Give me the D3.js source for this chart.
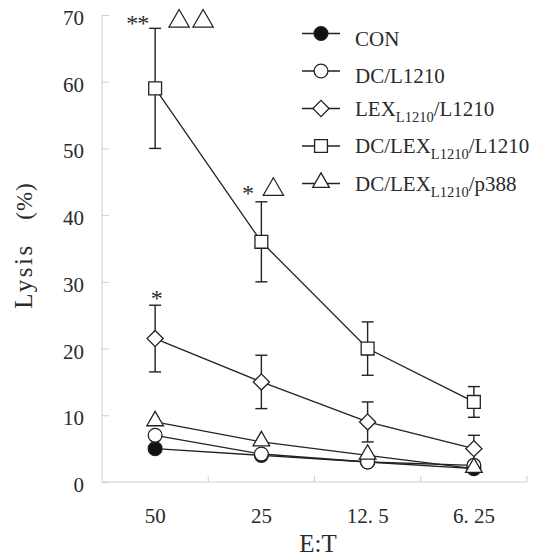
<!DOCTYPE html>
<html>
<head>
<meta charset="utf-8">
<script src="https://cdn.jsdelivr.net/npm/d3@7.9.0/dist/d3.min.js"></script>
<style>
  body { margin: 0; background: #fff; }
  svg { display: block; }
  text { font-family: "Liberation Serif", "Times New Roman", serif; fill: #2a2a2a; }
</style>
</head>
<body>
<svg id="chart" width="543" height="559"></svg>
<script>
// data
const categories = ['50', '25', '12. 5', '6. 25'];
const con = [5, 4, 3, 2];
const dcL1210 = [7, 4.2, 3, 2.5];
const lexL1210 = [21.5, 15, 9, 5];
const dcLexL1210 = [59, 36, 20, 12];
const dcLexP388 = [9, 6, 4, 2];
const lexErr = [5, 4, 3, 2];
const dcLexErr = [9, 6, 4, 2.3];
const yTicks = [0, 10, 20, 30, 40, 50, 60, 70];

// significance marks: category, value, offset, kind
const marks = [
  { cat: '50', value: 69.2, dx: -18, kind: 'star', text: '**' },
  { cat: '50', value: 69.2, dx: 24, kind: 'tri' },
  { cat: '50', value: 69.2, dx: 48, kind: 'tri' },
  { cat: '25', value: 43.8, dx: -14, kind: 'star', text: '*' },
  { cat: '25', value: 44, dx: 12, kind: 'tri' },
  { cat: '50', value: 28, dx: 1, kind: 'star', text: '*' }
];

const series = [
  { name: 'CON', values: con, shape: 'circle', fill: '#111' },
  { name: 'DC/L1210', values: dcL1210, shape: 'circle', fill: '#fff' },
  { name: ['LEX', 'L1210', '/L1210'], values: lexL1210, err: lexErr, shape: 'diamond', fill: '#fff' },
  { name: ['DC/LEX', 'L1210', '/L1210'], values: dcLexL1210, err: dcLexErr, shape: 'square', fill: '#fff' },
  { name: ['DC/LEX', 'L1210', '/p388'], values: dcLexP388, shape: 'triangle', fill: '#fff' }
];

const svg = d3.select('#chart');
const x = d3.scaleBand().domain(categories).range([102, 527]).padding(0);
const y = d3.scaleLinear().domain([0, 70]).range([482, 15]);
const cx = c => x(c) + x.bandwidth() / 2;

function symbolPath(shape) {
  if (shape === 'circle') return d3.symbol(d3.symbolCircle, 150)();
  if (shape === 'square') return d3.symbol(d3.symbolSquare, 165)();
  if (shape === 'diamond') return d3.symbol(d3.symbolSquare, 130)();
  return d3.symbol(d3.symbolTriangle, 120)();
}
function symbolTransform(shape, px, py) {
  if (shape === 'diamond') return `translate(${px},${py}) rotate(45)`;
  if (shape === 'triangle') return `translate(${px},${py - 1})`;
  return `translate(${px},${py})`;
}

// axes (light gray)
const axisColor = '#cfcfcf';
const xAxis = svg.append('g').attr('transform', 'translate(0,482)')
  .call(d3.axisBottom(x).tickSize(0).tickFormat(''));
xAxis.select('.domain').attr('stroke', axisColor).attr('d', 'M102,0H527');
xAxis.selectAll('.tick').remove();
categories.forEach(c => {
  xAxis.append('line').attr('x1', x(c) + x.bandwidth()).attr('x2', x(c) + x.bandwidth())
    .attr('y1', 0).attr('y2', -6).attr('stroke', axisColor);
});
categories.forEach(c => {
  svg.append('text').attr('x', cx(c)).attr('y', 523)
    .attr('text-anchor', 'middle').attr('font-size', 21).text(c);
});

const yAxis = svg.append('g').attr('transform', 'translate(102,0)')
  .call(d3.axisRight(y).tickValues(yTicks).tickSize(7).tickFormat(''));
yAxis.select('.domain').attr('stroke', axisColor).attr('d', 'M0,15V482');
yAxis.selectAll('.tick line').attr('stroke', axisColor);
yTicks.forEach(t => {
  svg.append('text').attr('x', 84).attr('y', y(t) + 10)
    .attr('text-anchor', 'end').attr('font-size', 21).text(t);
});

// y title: "Lysis" and "(%)" set apart, as in the original
svg.append('text').attr('transform', 'translate(32,276) rotate(-90)')
  .attr('text-anchor', 'middle').attr('font-size', 25)
  .attr('letter-spacing', 2.5).text('Lysis');
svg.append('text').attr('transform', 'translate(32,201) rotate(-90)')
  .attr('text-anchor', 'middle').attr('font-size', 23)
  .attr('letter-spacing', 1).text('(%)');
svg.append('text').attr('x', 318).attr('y', 552)
  .attr('text-anchor', 'middle').attr('font-size', 25).text('E:T');

// lines
const line = d3.line().x((d, i) => cx(categories[i])).y(d => y(d));
series.forEach(s => {
  svg.append('path').attr('d', line(s.values))
    .attr('fill', 'none').attr('stroke', '#222').attr('stroke-width', 1.3);
});

// error bars
series.filter(s => s.err).forEach(s => {
  s.values.forEach((v, i) => {
    const px = cx(categories[i]);
    const hi = y(v + s.err[i]), lo = y(v - s.err[i]);
    const g = svg.append('g').attr('stroke', '#222').attr('stroke-width', 1.4);
    g.append('line').attr('x1', px).attr('x2', px).attr('y1', hi).attr('y2', lo);
    g.append('line').attr('x1', px - 6).attr('x2', px + 6).attr('y1', hi).attr('y2', hi);
    g.append('line').attr('x1', px - 6).attr('x2', px + 6).attr('y1', lo).attr('y2', lo);
  });
});

// markers
series.forEach(s => {
  s.values.forEach((v, i) => {
    svg.append('path').attr('d', symbolPath(s.shape))
      .attr('transform', symbolTransform(s.shape, cx(categories[i]), y(v)))
      .attr('fill', s.fill).attr('stroke', '#222').attr('stroke-width', 1.3);
  });
});

// significance marks
marks.forEach(m => {
  const px = cx(m.cat) + m.dx, py = y(m.value);
  if (m.kind === 'star') {
    svg.append('text').attr('x', px).attr('y', py + 11)
      .attr('text-anchor', 'middle').attr('font-size', 24).attr('letter-spacing', -1).text(m.text);
  } else {
    svg.append('path').attr('d', d3.symbol(d3.symbolTriangle, 180)())
      .attr('transform', `translate(${px},${py + 1})`)
      .attr('fill', 'none').attr('stroke', '#222').attr('stroke-width', 1.2);
  }
});

// legend
const legend = svg.append('g');
series.forEach((s, i) => {
  const ly = 33.5 + i * 37.5;
  legend.append('line').attr('x1', 302).attr('x2', 340).attr('y1', ly).attr('y2', ly)
    .attr('stroke', '#222').attr('stroke-width', 1.3);
  legend.append('path').attr('d', symbolPath(s.shape))
    .attr('transform', symbolTransform(s.shape, 321, ly))
    .attr('fill', s.fill).attr('stroke', '#222').attr('stroke-width', 1.3);
  const t = legend.append('text').attr('x', 355).attr('y', ly + (i < 2 ? 12 : 7))
    .attr('font-size', 21);
  if (typeof s.name === 'string') {
    t.text(s.name);
  } else {
    t.append('tspan').text(s.name[0]);
    t.append('tspan').attr('font-size', 14.5).attr('dy', 6).text(s.name[1]);
    t.append('tspan').attr('dy', -6).text(s.name[2]);
  }
});
</script>
</body>
</html>
